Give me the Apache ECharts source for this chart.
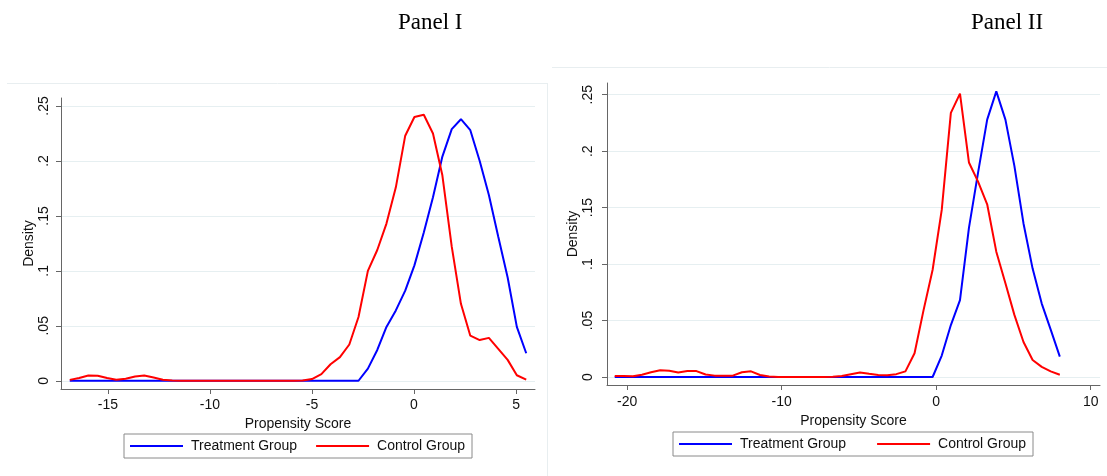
<!DOCTYPE html>
<html>
<head>
<meta charset="utf-8">
<title>Propensity Score Density</title>
<script src="https://cdn.jsdelivr.net/npm/echarts@6/dist/echarts.min.js"></script>
<style>
  html, body { margin: 0; padding: 0; background: #fff; }
  #main { width: 1107px; height: 476px; }
</style>
</head>
<body>
<div id="main"></div>
<script>
// Panel I: kdensity evaluation points and densities
var scoreI = [-16.87, -16.41, -15.96, -15.50, -15.04, -14.59, -14.13, -13.67, -13.22, -12.76,
              -12.31, -11.85, -11.39, -10.94, -10.48, -10.02, -9.57, -9.11, -8.65, -8.20,
              -7.74, -7.28, -6.83, -6.37, -5.91, -5.46, -5.00, -4.54, -4.09, -3.63,
              -3.17, -2.72, -2.26, -1.80, -1.35, -0.89, -0.43, 0.02, 0.48, 0.93,
              1.39, 1.85, 2.30, 2.76, 3.22, 3.67, 4.13, 4.59, 5.04, 5.50];
var treatI = [0, 0, 0, 0, 0, 0, 0, 0, 0, 0,
              0, 0, 0, 0, 0, 0, 0, 0, 0, 0,
              0, 0, 0, 0, 0, 0, 0, 0, 0, 0,
              0, 0, 0.011, 0.028, 0.049, 0.064, 0.082, 0.105, 0.135, 0.167,
              0.204, 0.229, 0.238, 0.228, 0.200, 0.169, 0.131, 0.094, 0.049, 0.025];
var controlI = [0.0008, 0.0025, 0.0048, 0.0046, 0.0025, 0.0010, 0.0018, 0.0038, 0.0047, 0.0030,
                0.0010, 0.0002, 0, 0, 0, 0, 0, 0, 0, 0,
                0, 0, 0, 0, 0, 0.0003, 0.0015, 0.0060, 0.0150, 0.0215,
                0.0330, 0.058, 0.100, 0.119, 0.143, 0.176, 0.223, 0.240, 0.242, 0.225,
                0.187, 0.122, 0.070, 0.041, 0.037, 0.039, 0.029, 0.019, 0.005, 0.001];

// Panel II
var scoreII = [-20.80, -20.21, -19.62, -19.04, -18.45, -17.86, -17.27, -16.69, -16.10, -15.51,
               -14.92, -14.33, -13.75, -13.16, -12.57, -11.98, -11.40, -10.81, -10.22, -9.63,
               -9.04, -8.46, -7.87, -7.28, -6.69, -6.11, -5.52, -4.93, -4.34, -3.75,
               -3.17, -2.58, -1.99, -1.40, -0.82, -0.23, 0.36, 0.95, 1.54, 2.12,
               2.71, 3.30, 3.89, 4.48, 5.06, 5.65, 6.24, 6.83, 7.41, 8.00];
var treatII = [0, 0, 0, 0, 0, 0, 0, 0, 0, 0,
               0, 0, 0, 0, 0, 0, 0, 0, 0, 0,
               0, 0, 0, 0, 0, 0, 0, 0, 0, 0,
               0, 0, 0, 0, 0, 0, 0.019, 0.046, 0.068, 0.132,
               0.181, 0.228, 0.253, 0.228, 0.187, 0.136, 0.096, 0.065, 0.042, 0.018];
var controlII = [0.0009, 0.0008, 0.0006, 0.0020, 0.0042, 0.0060, 0.0055, 0.0040, 0.0053, 0.0052,
                 0.0022, 0.0012, 0.0010, 0.0012, 0.0042, 0.0050, 0.0018, 0.0004, 0, 0,
                 0, 0, 0, 0, 0.0003, 0.0008, 0.0025, 0.0040, 0.0028, 0.0018,
                 0.0015, 0.0025, 0.0050, 0.021, 0.059, 0.095, 0.148, 0.234, 0.251, 0.190,
                 0.173, 0.153, 0.111, 0.083, 0.055, 0.031, 0.015, 0.009, 0.005, 0.002];

var xTicksI = [-15, -10, -5, 0, 5];
var xTicksII = [-20, -10, 0, 10];
var yTicks = [0, 0.05, 0.1, 0.15, 0.2, 0.25];
var groupNames = ['Treatment Group', 'Control Group'];

var FONT = 'Liberation Sans, Arial, sans-serif';
var AXIS_COLOR = '#666';
var BLUE = '#0000ff';
var RED = '#ff0000';

var pairs = function (xs, ys) {
    return xs.map(function (x, i) {
        return [x, ys[i]];
    });
};

var yLabel = function (v) {
    if (v === 0) {
        return '0';
    }
    return String(v).replace(/^0\./, '.');
};

var makeX = function (idx, min, max, ticks, gap, margin) {
    return {
        gridIndex: idx,
        type: 'value',
        min: min,
        max: max,
        name: 'Propensity Score',
        nameLocation: 'middle',
        nameGap: gap,
        nameTextStyle: {fontFamily: FONT, fontSize: 14, color: '#111'},
        axisLine: {show: true, onZero: false, lineStyle: {color: AXIS_COLOR, width: 1}},
        axisTick: {show: true, length: 5, customValues: ticks, lineStyle: {color: AXIS_COLOR}},
        axisLabel: {customValues: ticks, margin: margin, fontFamily: FONT, fontSize: 14, color: '#111'},
        splitLine: {show: false}
    };
};

var makeY = function (idx, min, max, gap, margin) {
    return {
        gridIndex: idx,
        type: 'value',
        min: min,
        max: max,
        name: 'Density',
        nameLocation: 'middle',
        nameRotate: 90,
        nameGap: gap,
        nameTextStyle: {fontFamily: FONT, fontSize: 14, color: '#111'},
        axisLine: {show: true, onZero: false, lineStyle: {color: AXIS_COLOR, width: 1}},
        axisTick: {show: true, length: 5, customValues: yTicks, lineStyle: {color: AXIS_COLOR}},
        axisLabel: {customValues: yTicks, rotate: 90, margin: margin, formatter: yLabel,
                    fontFamily: FONT, fontSize: 14, color: '#111'},
        splitLine: {show: true, lineStyle: {color: '#e6eff1', width: 1}}
    };
};

var makeLine = function (name, idx, xs, ys, color) {
    return {
        name: name,
        type: 'line',
        xAxisIndex: idx,
        yAxisIndex: idx,
        data: pairs(xs, ys),
        showSymbol: false,
        symbol: 'none',
        color: color,
        itemStyle: {color: color},
        lineStyle: {color: color, width: 2},
        emphasis: {disabled: true}
    };
};

var makeLegend = function (left, top, gap) {
    return {
        left: left,
        top: top,
        data: groupNames,
        icon: 'rect',
        itemWidth: 53,
        itemHeight: 2,
        itemGap: gap,
        padding: [5, 7, 5, 6],
        borderColor: '#8a8a8a',
        borderWidth: 1,
        backgroundColor: '#fff',
        selectedMode: false,
        textStyle: {fontFamily: FONT, fontSize: 14, color: '#111', padding: [0, 0, 0, 3]}
    };
};

var panelTitle = function (text, left) {
    return {
        text: text,
        left: left,
        top: 11,
        padding: 0,
        textStyle: {fontFamily: 'Liberation Serif, Times New Roman, serif', fontSize: 23,
                    fontWeight: 'normal', color: '#000'}
    };
};

var myChart = echarts.init(document.getElementById('main'), null, {renderer: 'canvas'});

var option = {
    animation: false,
    backgroundColor: '#fff',
    title: [panelTitle('Panel I', 398), panelTitle('Panel II', 971)],
    grid: [
        {left: 61, top: 98, width: 474, height: 291, containLabel: false, outerBoundsMode: 'none'},
        {left: 607, top: 83, width: 493, height: 302, containLabel: false, outerBoundsMode: 'none'}
    ],
    xAxis: [makeX(0, -17.3, 5.93, xTicksI, 22, 9), makeX(1, -21.3, 10.6, xTicksII, 23, 10)],
    yAxis: [makeY(0, -0.0075, 0.2573, 23, 10), makeY(1, -0.0071, 0.2604, 26, 12)],
    legend: [makeLegend(124, 434, 19), makeLegend(673, 432, 31)],
    graphic: [
        {type: 'line', shape: {x1: 7, y1: 83.5, x2: 548, y2: 83.5}, style: {stroke: '#e8eef0', lineWidth: 1}, silent: true},
        {type: 'line', shape: {x1: 547.5, y1: 83.5, x2: 547.5, y2: 476}, style: {stroke: '#e8eef0', lineWidth: 1}, silent: true},
        {type: 'line', shape: {x1: 552, y1: 67.5, x2: 1107, y2: 67.5}, style: {stroke: '#e8eef0', lineWidth: 1}, silent: true}
    ],
    series: [
        makeLine(groupNames[0], 0, scoreI, treatI, BLUE),
        makeLine(groupNames[1], 0, scoreI, controlI, RED),
        makeLine(groupNames[0], 1, scoreII, treatII, BLUE),
        makeLine(groupNames[1], 1, scoreII, controlII, RED)
    ]
};

myChart.setOption(option);
</script>
</body>
</html>
